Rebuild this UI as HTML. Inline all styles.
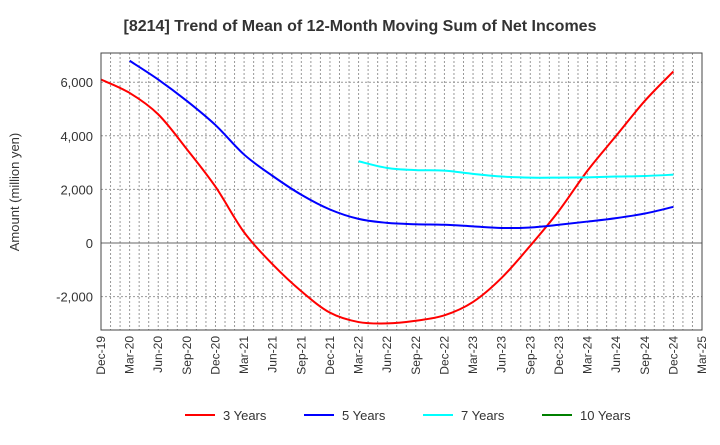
<!DOCTYPE html>
<html><head><meta charset="utf-8"><style>
body{margin:0;background:#fff;font-family:"Liberation Sans",sans-serif}
</style></head><body>
<svg id="c" width="720" height="440" xmlns="http://www.w3.org/2000/svg">
<text x="360" y="31" text-anchor="middle" font-size="16" font-weight="bold" fill="#333">[8214]  Trend of Mean of 12-Month Moving Sum of Net Incomes</text>
<text transform="translate(19,192) rotate(-90)" text-anchor="middle" font-size="13" fill="#333">Amount (million yen)</text>
<g id="grid"></g><g id="series"></g><g id="axes"></g><g id="legend"></g>
</svg>
<script>
const xLabels=["Dec-19","Mar-20","Jun-20","Sep-20","Dec-20","Mar-21","Jun-21","Sep-21","Dec-21","Mar-22","Jun-22","Sep-22","Dec-22","Mar-23","Jun-23","Sep-23","Dec-23","Mar-24","Jun-24","Sep-24","Dec-24","Mar-25"];
const yTicks=[-2000,0,2000,4000,6000];
const s3=[6100,5600,4800,3500,2100,400,-800,-1800,-2600,-2950,-3000,-2900,-2700,-2200,-1300,-100,1200,2700,4000,5300,6400];
const s5=[null,6800,6100,5300,4400,3300,2500,1800,1250,900,750,700,680,620,560,580,680,800,930,1100,1350];
const s7=[null,null,null,null,null,null,null,null,null,3050,2800,2720,2700,2580,2480,2440,2440,2450,2480,2500,2550];
const s10=[];
const L=101,R=702,T=53,B=330;
const xq=i=>L+(R-L)*i/21;
const y=v=>243-v*0.0268;
const NS="http://www.w3.org/2000/svg";
function mk(t,a,p){const e=document.createElementNS(NS,t);for(const k in a)e.setAttribute(k,a[k]);p.appendChild(e);return e;}
const grid=document.getElementById('grid'),axes=document.getElementById('axes'),ser=document.getElementById('series'),leg=document.getElementById('legend');
for(let m=1;m<63;m++){const x=L+(R-L)*m/63;const l=mk('line',{x1:x,x2:x,y1:T,y2:B,stroke:'#999','stroke-dasharray':'2,2','stroke-width':1},grid);

}
yTicks.forEach(v=>{const l=mk('line',{x1:L,x2:R,y1:y(v),y2:y(v),stroke:v===0?'#666':'#999','stroke-dasharray':v===0?'':'2,2'},grid);


const t=mk('text',{x:L-8,y:y(v)+5,'text-anchor':'end','font-size':13,fill:'#333'},axes);t.textContent=v.toLocaleString('en-US');

});
const fr=mk('rect',{x:L,y:T,width:R-L,height:B-T,fill:'none',stroke:'#444'},axes);


xLabels.forEach((s,i)=>{const x=xq(i);const t=mk('text',{transform:`translate(${x+4},${B+6}) rotate(-90)`,'text-anchor':'end','font-size':12,fill:'#333'},axes);t.textContent=s;

});
function path(arr){const p=[];arr.forEach((v,i)=>{if(v!=null)p.push([xq(i),y(v)]);});
let d=`M${p[0][0]},${p[0][1]}`;for(let i=0;i<p.length-1;i++){const p0=p[i-1]||p[i],p1=p[i],p2=p[i+1],p3=p[i+2]||p2;
d+=` C${p1[0]+(p2[0]-p0[0])/6},${p1[1]+(p2[1]-p0[1])/6} ${p2[0]-(p3[0]-p1[0])/6},${p2[1]-(p3[1]-p1[1])/6} ${p2[0]},${p2[1]}`;}return d;}
[[s3,'#ff0000','series-3-years'],[s5,'#0000ff','series-5-years'],[s7,'#00ffff','series-7-years'],[s10,'#008000','series-10-years']].forEach(([a,c,n])=>{
if(!a.some(v=>v!=null))return;const e=mk('path',{d:path(a),fill:'none',stroke:c,'stroke-width':2},ser);

});
[['3 Years','#ff0000',185],['5 Years','#0000ff',304],['7 Years','#00ffff',423],['10 Years','#008000',542]].forEach(([s,c,x])=>{
const g=mk('g',{},leg);


mk('line',{x1:x,x2:x+30,y1:415,y2:415,stroke:c,'stroke-width':2},g);
const t=mk('text',{x:x+38,y:420,'font-size':13,fill:'#333'},g);t.textContent=s;});
</script>
</body></html>
